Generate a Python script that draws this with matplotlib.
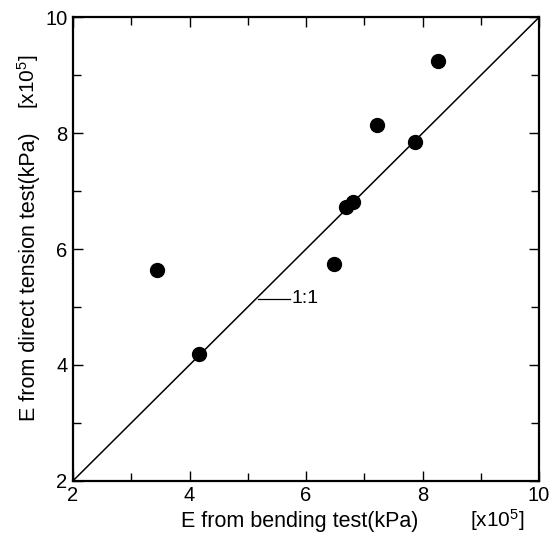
import numpy as np
import matplotlib.pyplot as plt
from matplotlib.ticker import MultipleLocator

plt.rcParams['font.family'] = ['Liberation Sans', 'DejaVu Sans']
plt.rcParams['mathtext.default'] = 'regular'

# E (x10^5 kPa): bending test vs direct tension test
e_bending = [3.44, 4.17, 6.48, 6.68, 6.81, 7.21, 7.87, 8.27]
e_tension = [5.64, 4.18, 5.74, 6.72, 6.81, 8.14, 7.84, 9.25]
axis_range = [2, 10]

fig = plt.figure(figsize=(5.49, 5.39), dpi=100)
ax = fig.add_axes([0.133, 0.108, 0.849, 0.860])

# linea 1:1
ax.plot(axis_range, axis_range, color='black', lw=1.1)
ax.scatter(e_bending, e_tension, s=100, color='black', zorder=3)

ax.plot([5.17, 5.73], [5.14, 5.14], color='black', lw=0.9)
ax.text(5.75, 5.14, '1:1', fontsize=14, va='center', ha='left')

ax.set_xlim(axis_range)
ax.set_ylim(axis_range)
ax.xaxis.set_major_locator(MultipleLocator(2))
ax.yaxis.set_major_locator(MultipleLocator(2))
ax.xaxis.set_minor_locator(MultipleLocator(1))
ax.yaxis.set_minor_locator(MultipleLocator(1))
ax.tick_params(which='both', direction='in', top=True, right=True,
               labelsize=14.5, width=1.0, pad=4)
ax.tick_params(which='major', length=7)
ax.tick_params(which='minor', length=6)
for sp in ax.spines.values():
    sp.set_linewidth(1.6)

fig.text(300 / 549, 1 - 522 / 539, 'E from bending test(kPa)',
         fontsize=15.5, ha='center', va='center')
fig.text(497 / 549, 1 - 520 / 539, r'[x10$^5$]',
         fontsize=15, ha='center', va='center')
fig.text(30 / 549, 1 - 277 / 539, 'E from direct tension test(kPa)',
         fontsize=15.5, ha='center', va='center', rotation=90)
fig.text(28 / 549, 1 - 82 / 539, r'[x10$^5$]',
         fontsize=15, ha='center', va='center', rotation=90)

fig.savefig('out.png', dpi=100)
